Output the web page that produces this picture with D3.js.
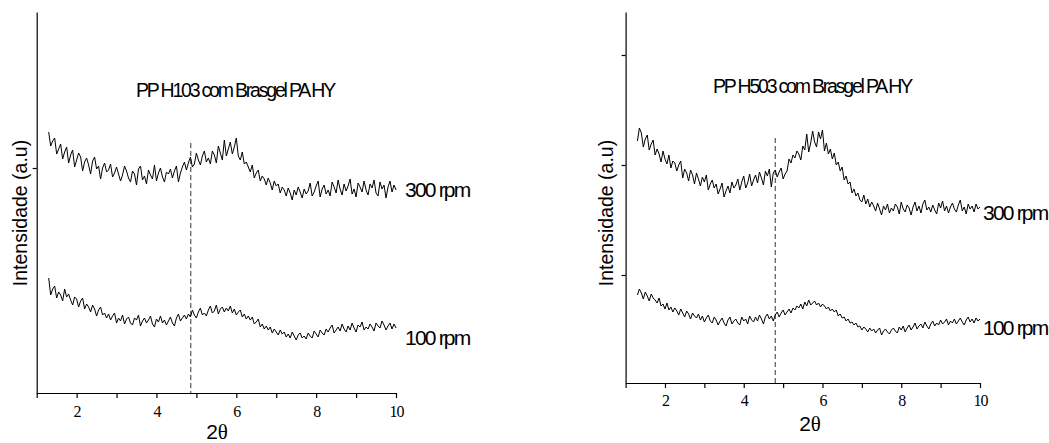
<!DOCTYPE html>
<html>
<head>
<meta charset="utf-8">
<script src="https://cdn.jsdelivr.net/npm/d3@7"></script>
<style>
  body { margin: 0; background: #fff; }
  svg { display: block; }
  .axis path, .axis line { stroke: #000; stroke-width: 1.2; }
  .axis text { font-family: "Liberation Serif", "Times New Roman", serif; font-size: 16px; fill: #000; letter-spacing: -1px; }
  .title { font-family: "Liberation Sans", Arial, sans-serif; font-size: 19.5px; letter-spacing: -2.2px; }
  .rpm { font-family: "Liberation Sans", Arial, sans-serif; font-size: 21px; letter-spacing: -1.8px; }
  .ylab { font-family: "Liberation Sans", Arial, sans-serif; font-size: 19.5px; }
  .xlab { font-family: "Liberation Sans", Arial, sans-serif; font-size: 21px; }
</style>
</head>
<body>
<svg id="chart" width="1049" height="443"></svg>
<script>
// 2theta sampling of the scans
const thetaStart = 1.3;
const thetaStep = 0.05;

// PP H103 com Brasgel PA HY (arbitrary intensity units)
const h103_300 = [
  261, 247, 252, 255, 239, 244, 249, 234, 241, 246,
  230, 238, 243, 226, 233, 240, 236, 222, 231, 235,
  228, 219, 232, 236, 224, 227, 214, 225, 230, 221,
  223, 229, 216, 220, 226, 219, 212, 218, 227, 222,
  215, 211, 222, 219, 208, 224, 227, 213, 217, 209,
  223, 218, 214, 228, 212, 220, 225, 216, 211, 221,
  219, 224, 215, 222, 227, 211, 220, 226, 231, 223,
  230, 236, 226, 229, 240, 233, 228, 237, 242, 231,
  235, 229, 242, 238, 230, 247, 240, 233, 253, 237,
  244, 251, 239, 246, 255, 237, 233, 241, 229, 231,
  226, 221, 228, 215, 220, 223, 212, 217, 214, 208,
  215, 210, 203, 212, 207, 209, 200, 206, 203, 197,
  205, 200, 193, 203, 198, 206, 201, 195, 204, 199,
  202, 210, 197, 201, 207, 212, 196, 204, 208, 199,
  203, 197, 211, 206, 200, 213, 204, 198, 209, 202,
  207, 214, 199, 204, 196, 210, 206, 201, 212, 203,
  198, 209, 205, 213, 200, 197, 211, 204, 208, 195,
  206, 212, 201, 208, 203
];
const h103_100 = [
  115, 98, 104, 107, 95, 101, 98, 92, 104, 96,
  99, 93, 88, 96, 94, 86, 92, 95, 84, 89,
  86, 81, 88, 84, 77, 83, 86, 78, 80, 75,
  79, 73, 77, 80, 70, 75, 72, 78, 69, 74,
  76, 70, 68, 75, 73, 78, 67, 72, 75, 70,
  73, 77, 69, 66, 74, 71, 77, 70, 73, 68,
  72, 76, 70, 67, 75, 79, 72, 75, 78, 74,
  79, 76, 83, 78, 75, 81, 85, 78, 80, 77,
  83, 87, 80, 82, 88, 79, 84, 86, 81, 85,
  82, 87, 80, 84, 78, 81, 83, 76, 79, 74,
  77, 73, 76, 69, 71, 74, 66, 69, 64, 67,
  63, 66, 60, 64, 61, 58, 63, 59, 61, 56,
  59, 55, 61, 57, 53, 58, 60, 55, 57, 54,
  60, 57, 55, 62, 59, 56, 63, 60, 58, 64,
  61, 65, 68, 60, 63, 66, 62, 69, 64, 61,
  67, 63, 70, 65, 61, 68, 66, 71, 63, 66,
  64, 69, 66, 62, 70, 67, 65, 72, 68, 63,
  67, 70, 64, 69, 65
];

// PP H503 com Brasgel PA HY
const h503_300 = [
  242, 255, 250, 236, 244, 248, 233, 239, 243, 228,
  234, 229, 221, 232, 224, 219, 228, 215, 222, 220,
  212, 218, 222, 205, 214, 210, 202, 213, 208, 199,
  210, 204, 197, 206, 201, 208, 193, 199, 203, 195,
  199, 189, 194, 200, 186, 192, 197, 190, 201, 195,
  198, 204, 193, 201, 207, 195, 200, 209, 197, 203,
  208, 200, 211, 205, 198, 212, 207, 214, 196, 210,
  213, 206, 211, 215, 204, 209, 212, 224, 220, 228,
  225, 232, 229, 223, 237, 233, 249, 231, 240, 252,
  241, 236, 251, 244, 253, 232, 240, 229, 234, 224,
  230, 218, 221, 212, 216, 203, 207, 199, 201, 190,
  194, 187, 190, 183, 181, 188, 179, 184, 176, 181,
  177, 172, 180, 174, 168, 177, 173, 179, 170, 175,
  172, 179, 176, 169, 181, 174, 171, 178, 175, 168,
  176, 181, 172, 177, 170, 179, 183, 173, 176, 171,
  178, 173, 169, 180, 175, 182, 172, 177, 170, 176,
  180, 174, 171, 178, 183, 172, 176, 169, 179, 174,
  177, 171, 179, 174, 176
];
const h503_100 = [
  88, 94, 90, 84, 91, 87, 82, 89, 85, 83,
  80, 85, 77, 79, 74, 80, 73, 76, 71, 75,
  72, 68, 74, 70, 66, 72, 69, 64, 70, 67,
  65, 69, 63, 67, 61, 65, 68, 62, 60, 66,
  63, 58, 62, 65, 60, 57, 63, 66, 59, 62,
  64, 60, 58, 66, 62, 64, 59, 67, 63, 61,
  66, 62, 68, 64, 59, 66, 69, 64, 67, 62,
  68, 71, 66, 70, 73, 68, 71, 74, 70, 75,
  73, 77, 75, 79, 74, 81, 77, 83, 78, 80,
  82, 78, 80, 76, 79, 77, 74, 76, 72, 74,
  71, 73, 67, 69, 65, 66, 62, 64, 60, 61,
  58, 60, 56, 57, 53, 56, 54, 51, 55, 52,
  54, 50, 53, 55, 48, 52, 54, 51, 49, 53,
  55, 52, 50, 56, 53, 57, 51, 55, 58, 53,
  56, 60, 54, 57, 59, 55, 61, 57, 54, 59,
  62, 57, 60, 58, 63, 59, 61, 64, 58, 62,
  60, 64, 59, 62, 65, 61, 58, 63, 66, 61,
  64, 60, 65, 62, 64
];

// Axis ticks and labels
const xTicks = [1, 2, 3, 4, 5, 6, 7, 8, 9, 10];
const xTickLabels = [2, 4, 6, 8, 10];
const titles = ["PP H103 com Brasgel PA HY", "PP H503 com Brasgel PA HY"];
const seriesNames = ["300 rpm", "100 rpm"];
const yTicksLeft = [225];
const yTicksRight = [108, 218, 328];
const markerTheta = [4.86, 4.8];
const markerTop = [250, 245];

// Panel layout
const panels = [
  {
    x0: 36.7, x1: 396, yTop: 12, yBottom: 393, yMax: 381,
    series: [h103_300, h103_100], yTicks: yTicksLeft,
    title: titles[0], titleX: 235, titleY: 97,
    labelX: 405, labelY: [197, 345],
    yLabX: 20, xLabX: 217, xLabY: 439, tickPad: 8,
  },
  {
    x0: 625.6, x1: 980, yTop: 12, yBottom: 383, yMax: 371,
    series: [h503_300, h503_100], yTicks: yTicksRight,
    title: titles[1], titleX: 812, titleY: 93,
    labelX: 983, labelY: [220, 335],
    yLabX: 606, xLabX: 810, xLabY: 431, tickPad: 7,
  },
];

const svg = d3.select("#chart");

panels.forEach((p, pi) => {
  const x = d3.scaleLinear().domain([1, 10]).range([p.x0, p.x1]);
  const y = d3.scaleLinear().domain([0, p.yMax]).range([p.yBottom, p.yTop]);
  const g = svg.append("g");

  // Bottom axis
  g.append("g")
    .attr("class", "axis")
    .attr("transform", `translate(0,${p.yBottom})`)
    .call(
      d3.axisBottom(x)
        .tickValues(xTicks)
        .tickSize(5)
        .tickSizeOuter(0)
        .tickPadding(p.tickPad)
        .tickFormat((d) => (xTickLabels.includes(d) ? d : ""))
    );

  // Left axis
  g.append("g")
    .attr("class", "axis")
    .attr("transform", `translate(${p.x0},0)`)
    .call(
      d3.axisLeft(y)
        .tickValues(p.yTicks)
        .tickSize(4)
        .tickSizeOuter(0)
        .tickFormat("")
    );

  // Dashed reference line
  g.append("line")
    .attr("x1", x(markerTheta[pi]))
    .attr("x2", x(markerTheta[pi]))
    .attr("y1", y(markerTop[pi]))
    .attr("y2", y(0))
    .attr("stroke", "#333")
    .attr("stroke-width", 1)
    .attr("stroke-dasharray", "5,3");

  // Traces
  const line = d3
    .line()
    .x((d, i) => x(thetaStart + thetaStep * i))
    .y((d) => y(d));

  p.series.forEach((s, si) => {
    g.append("path")
      .datum(s)
      .attr("fill", "none")
      .attr("stroke", "#000")
      .attr("stroke-width", 1)
      .attr("d", line);

    g.append("text")
      .attr("class", "rpm")
      .attr("x", p.labelX)
      .attr("y", p.labelY[si])
      .text(seriesNames[si]);
  });

  // Title
  g.append("text")
    .attr("class", "title")
    .attr("x", p.titleX)
    .attr("y", p.titleY)
    .attr("text-anchor", "middle")
    .text(p.title);

  // Y label
  g.append("text")
    .attr("class", "ylab")
    .attr("transform", `translate(${p.yLabX},213) rotate(-90)`)
    .attr("text-anchor", "middle")
    .attr("dominant-baseline", "central")
    .text("Intensidade (a.u)");

  // X label
  const xl = g.append("text")
    .attr("class", "xlab")
    .attr("x", p.xLabX)
    .attr("y", p.xLabY)
    .attr("text-anchor", "middle");
  xl.append("tspan").text("2");
  xl.append("tspan")
    .attr("font-family", "'Liberation Serif', 'Times New Roman', serif")
    .text("θ");
});
</script>
</body>
</html>
